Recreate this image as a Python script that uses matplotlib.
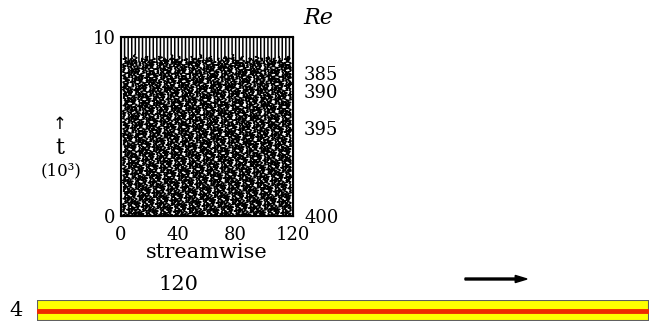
import numpy as np
import matplotlib.pyplot as plt
from matplotlib.patches import Rectangle, FancyArrow

plt.rcParams['font.family'] = 'DejaVu Serif'

# streamwise stations of the traces
stations = np.arange(2.5, 120, 2.5)
# time (10^3) where each trace starts to wiggle
onset = [8.9, 8.7, 8.8, 9.0, 8.6, 8.8, 8.9, 8.7, 8.8, 8.6, 8.9, 8.8, 8.7, 9.0, 8.8, 8.9,
         8.7, 8.8, 8.6, 8.9, 8.8, 9.0, 8.7, 8.8, 8.9, 8.6, 8.8, 8.7, 8.9, 8.8, 9.0, 8.7,
         8.8, 8.9, 8.6, 8.8, 8.7, 8.9, 8.8, 8.6, 8.9, 8.7, 8.8, 8.9, 8.7, 8.8, 8.9]
# deflection samples (fraction of station spacing)
wiggle = [0.6, -0.9, 0.2, 1.0, -0.4, -1.0, 0.7, 0.1, -0.6, 0.9, -0.2, -0.8, 0.5, 1.0, -0.3, 0.4,
          -1.0, 0.8, 0.0, -0.5, 0.9, -0.7, 0.3, 0.6, -0.9, 0.2, 1.0, -0.1, -0.6, 0.5, -1.0, 0.8,
          0.3, -0.4, 0.9, -0.8, 0.1, 0.7, -1.0, 0.4, -0.2, 0.9, -0.6, 0.0, 0.8, -0.9, 0.5, -0.3,
          1.0, -0.7, 0.2, 0.6, -0.5, -1.0, 0.9, 0.3, -0.8, 0.4, 0.7, -0.2, -0.9, 1.0, -0.4, 0.1]
nsamp = 220

re_t = [8.0, 7.0, 4.9, 0.0]
re_labels = ['385', '390', '395', '400']

fig = plt.figure(figsize=(6.54, 3.24), dpi=100)

ax = fig.add_axes([121/654, 1-216/324, 172/654, 179/324])
nw = len(wiggle)
for i, x0 in enumerate(stations):
    ts = np.linspace(0.0, onset[i], nsamp)
    dx = np.array([wiggle[(j*5 + i*11) % nw] for j in range(nsamp)])
    xs = x0 + 1.3*dx
    ax.plot(np.r_[xs, x0, x0], np.r_[ts, onset[i], 10], color='k', lw=1.1)
ax.set_xlim(0, 120)
ax.set_ylim(0, 10)
ax.set_xticks([0, 40, 80, 120])
ax.set_yticks([0, 10])
ax.tick_params(axis='x', length=0, labelsize=13, pad=7)
ax.tick_params(axis='y', length=0, labelsize=13, pad=4)
for s in ax.spines.values():
    s.set_linewidth(1.5)
ax.set_xlabel('streamwise', fontsize=15)
ax.xaxis.set_label_coords(0.5, -0.15, transform=ax.transAxes)
ax.xaxis.label.set_va('top')

ax2 = ax.twinx()
ax2.set_ylim(0, 10)
ax2.set_yticks(re_t)
ax2.set_yticklabels(re_labels)
ax2.tick_params(length=0, labelsize=13, pad=8)
fig.text(318/654, 1-18/324, 'Re', fontsize=16, style='italic', ha='center', va='center')

fig.text(60/654, 1-124/324, '↑', fontsize=12, ha='center', va='center', family='DejaVu Sans')
fig.text(60/654, 1-148/324, 't', fontsize=16, ha='center', va='center')
fig.text(61/654, 1-171/324, '(10³)', fontsize=12, ha='center', va='center')

# pipe sketch
bx = fig.add_axes([37/654, 1-321/324, 612/654, 21/324])
bx.set_xlim(0, 1)
bx.set_ylim(0, 1)
bx.axis('off')
bx.add_patch(Rectangle((0, 0), 1, 1, facecolor='#ffff00', edgecolor='#606060', lw=1.5))
bx.axhline(0.5, color='#ee2a00', lw=3.5)
fig.text(16/654, 1-311/324, '4', fontsize=15, ha='center', va='center')
fig.text(178/654, 1-285/324, '120', fontsize=15, ha='center', va='center')
fig.patches.append(FancyArrow(
    465/654, 1-279/324, 62/654, 0, width=0.006, head_width=0.022, head_length=0.018,
    length_includes_head=True, color='k', transform=fig.transFigure, figure=fig))

fig.savefig('out.png', dpi=100)
